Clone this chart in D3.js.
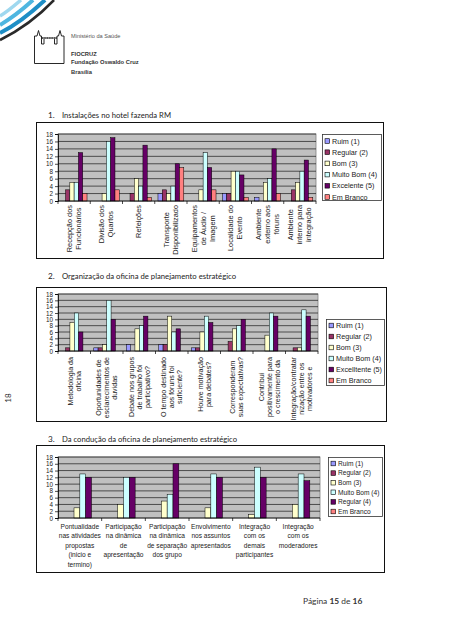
<!DOCTYPE html>
<html><head><meta charset="utf-8">
<script src="https://cdn.jsdelivr.net/npm/d3@7"></script>
<style>body{margin:0;background:#fff}svg{display:block}</style>
</head><body>
<script>
// ---------- DATA ----------
const seriesNames = ["Ruim (1)","Regular (2)","Bom (3)","Muito Bom (4)","Excelente (5)","Em Branco"];
const seriesNames2 = ["Ruim (1)","Regular (2)","Bom (3)","Muito Bom (4)","Excelltente (5)","Em Branco"];
const seriesNames3 = ["Ruim (1)","Regular (2)","Bom (3)","Muito Bom (4)","Regular (4)","Em Branco"];
const seriesColors = ["#9999FF","#993366","#FFFFCC","#CCFFFF","#660066","#FF8080"];
const yTicks = [0,2,4,6,8,10,12,14,16,18];

const titles = ["Instalações no hotel fazenda RM",
                "Organização da oficina de planejamento estratégico",
                "Da condução da oficina de planejamento estratégico"];

const cats1 = [["Recepção dos","Funcionários"],["Divisão dos","Quartos"],["Refeições"],
  ["Transporte","Disponibilizado"],["Equipamentos","de Áudio /","Imagem"],["Localidade do","Evento"],
  ["Ambiente","externo aos","fóruns"],["Ambiente","interno para","integração"]];
// rows = series (Ruim, Regular, Bom, Muito Bom, Excelente, Em Branco), cols = categories
const values1 = [
  [0,0,0,2,0,2,1,0],
  [3,0,2,3,0,2,0,3],
  [5,2,6,2,3,8,5,5],
  [5,16,4,4,13,8,6,8],
  [13,17,15,10,9,7,14,11],
  [2,3,1,9,3,1,2,1]];

const cats2 = [["Metodologia da","oficina"],["Oportunidades de","esclarecimentos de","duvidas"],
  ["Debate nos grupos","de trabalho foi","participativo?"],["O tempo destinado","aos fóruns foi","suficiente?"],
  ["Houve motivação","para debates?"],["Corresponderam","suas expectativas?"],
  ["Contribui","positivamente para","o crescimento da"],["Integração/contratar","nização entre os","motivadores e"]];
const values2 = [
  [0,1,2,2,1,0,0,0],
  [1,1,0,2,1,3,0,1],
  [9,2,7,11,6,7,5,1],
  [12,16,8,6,11,8,12,13],
  [6,10,11,7,9,10,11,11],
  [0,0,0,0,0,0,0,0]];

const cats3 = [["Pontualidade","nas atividades","propostas","(inicio e","termino)"],
  ["Participação","na dinâmica","de","apresentação"],["Participação","na dinâmica","de separação","dos grupo"],
  ["Envolvimento","nos assuntos","apresentados"],["Integração","com os","demais","participantes"],
  ["Integração","com os","moderadores"]];
const values3 = [
  [0,0,0,0,0,0],
  [0,0,0,0,0,0],
  [3,4,5,3,1,4],
  [13,12,7,13,15,13],
  [12,12,16,12,12,11],
  [0,0,0,0,0,0]];

// ---------- DRAW ----------
const W = 453, H = 640;
const svg = d3.select("body").append("svg").attr("width", W).attr("height", H);
const AF = "Arial, 'Liberation Sans', sans-serif";
const CF = "Lato, 'Open Sans', sans-serif";

// header swirl
const sw = svg.append("g").attr("fill","none");
sw.append("path").attr("d","M0,40 C16,32 36,19 54,0").attr("stroke","#2a2a2a").attr("stroke-width",2.6);
sw.append("path").attr("d","M0,33 C14,26 30,14 45,0").attr("stroke","#1e8ec6").attr("stroke-width",4);
sw.append("path").attr("d","M0,25 C10,19 22,10 33,0").attr("stroke","#4fb6e0").attr("stroke-width",4);
sw.append("path").attr("d","M0,16 C7,12 14,6 21,0").attr("stroke","#9fd8ef").attr("stroke-width",3.5);
// castle logo
const cl = svg.append("g").attr("fill","none").attr("stroke","#111").attr("stroke-width",0.9);
cl.append("path").attr("d","M34.5,63.5 H64 M34.5,63.5 V36 H37 L38.5,30.5 L40,36 H41.5 V44 M64,63.5 V36 H61.5 L60,30.5 L58.5,36 H57 V44 M41.5,38 H57 M41.5,44 H44 V39 M57,44 H54.5 V39");
cl.append("path").attr("d","M42,38 H57").attr("stroke-dasharray","1.2,1.2");
svg.append("text").attr("x",71).attr("y",37.5).text("Ministério da Saúde")
  .attr("font-family",AF).attr("font-size",5.6).attr("fill","#555");
[["FIOCRUZ",56],["Fundação Oswaldo Cruz",64],["Brasília",74]].forEach(([t,y])=>{
  svg.append("text").attr("x",71).attr("y",y).text(t).attr("font-family",AF)
    .attr("font-weight","bold").attr("font-size",5.8).attr("fill","#333");
});

// titles
[[118,titles[0],109],[279,titles[1],174],[442,titles[2],175]].forEach(([y,t,len],i)=>{
  svg.append("text").attr("x",48).attr("y",y).text((i+1)+".").attr("font-family",CF).attr("font-size",8.2).attr("fill","#222");
  svg.append("text").attr("x",62).attr("y",y).text(t).attr("font-family",CF).attr("font-size",8.2)
    .attr("fill","#222").attr("textLength",len).attr("lengthAdjust","spacingAndGlyphs");
});

// side page marker
svg.append("text").attr("transform","translate(11,398) rotate(-90)").attr("text-anchor","middle")
  .text("18").attr("font-family",CF).attr("font-size",8).attr("fill","#333");

// page number
const pn = svg.append("text").attr("x",303).attr("y",604).attr("font-family",CF).attr("font-size",8.4).attr("fill","#333");
pn.append("tspan").text("Página ");
pn.append("tspan").text("15").attr("font-weight","bold");
pn.append("tspan").text(" de ");
pn.append("tspan").text("16").attr("font-weight","bold");

function drawChart(cfg){
  const g = svg.append("g");
  const [bx0,by0,bx1,by1] = cfg.box;
  g.append("rect").attr("x",bx0+0.5).attr("y",by0+0.5).attr("width",bx1-bx0).attr("height",by1-by0)
    .attr("fill","#fff").attr("stroke","#111").attr("stroke-width",1);
  const [px0,px1,pyTop,pyBot] = cfg.plot;
  const n = cfg.cats.length;
  const x0 = d3.scaleBand().domain(d3.range(n)).range([px0,px1]).paddingInner(0).paddingOuter(0);
  const x1 = d3.scaleBand().domain(d3.range(6)).range([0,x0.bandwidth()]).paddingInner(0).paddingOuter(0.75);
  const y = d3.scaleLinear().domain([0,18]).range([pyBot,pyTop]);
  g.append("rect").attr("x",px0).attr("y",pyTop).attr("width",px1-px0).attr("height",pyBot-pyTop)
    .attr("fill","#C0C0C0").attr("stroke","#808080").attr("stroke-width",0.8);
  g.selectAll(".grid").data(yTicks.filter(d=>d>0)).join("line")
    .attr("x1",px0).attr("x2",px1).attr("y1",d=>y(d)).attr("y2",d=>y(d))
    .attr("stroke","#1a1a1a").attr("stroke-width",0.7);
  // bars
  cfg.values.forEach((row,s)=>{
    g.selectAll(null).data(row.map((v,i)=>({v,i})).filter(d=>d.v>0)).join("rect")
      .attr("x",d=>x0(d.i)+x1(s)).attr("width",x1.bandwidth())
      .attr("y",d=>y(d.v)).attr("height",d=>y(0)-y(d.v))
      .attr("fill",seriesColors[s]).attr("stroke","#000").attr("stroke-width",0.5);
  });
  // y axis
  const ya = g.append("g").attr("transform",`translate(${px0},0)`)
    .call(d3.axisLeft(y).tickValues(yTicks).tickSize(3).tickPadding(2));
  ya.select(".domain").attr("stroke","#000").attr("stroke-width",0.8);
  ya.selectAll(".tick line").attr("stroke","#000").attr("stroke-width",0.7);
  ya.selectAll("text").attr("font-family",AF).attr("font-size",6.3).attr("fill","#222");
  // x axis line + ticks between categories
  g.append("line").attr("x1",px0).attr("x2",px1).attr("y1",y(0)).attr("y2",y(0)).attr("stroke","#000").attr("stroke-width",0.8);
  g.selectAll(".xt").data(d3.range(n+1)).join("line")
    .attr("x1",i=>i<n?x0(i):px1).attr("x2",i=>i<n?x0(i):px1)
    .attr("y1",y(0)).attr("y2",y(0)+3).attr("stroke","#000").attr("stroke-width",0.7);
  // category labels
  cfg.cats.forEach((lines,i)=>{
    const cx = x0(i)+x0.bandwidth()/2;
    if(cfg.rotate){
      const lg = g.append("g").attr("transform",`translate(${cx},${cfg.labelTop}) rotate(-90)`);
      const ts = lines.map((t,j)=>lg.append("text").text(t).attr("font-family",AF).attr("font-size",cfg.labelFont)
        .attr("fill","#222").attr("text-anchor","middle").attr("dy","0.35em")
        .attr("y",(j-(lines.length-1)/2)*cfg.lineStep));
      const L = d3.max(ts,t=>t.node().getComputedTextLength());
      ts.forEach(t=>t.attr("x",-L/2));
    } else {
      lines.forEach((t,j)=>g.append("text").text(t).attr("x",cx).attr("y",cfg.labelTop+j*cfg.lineStep)
        .attr("font-family",AF).attr("font-size",cfg.labelFont).attr("fill","#222").attr("text-anchor","middle"));
    }
  });
  // legend
  const [lx0,ly0,lx1,ly1,first,step,fs] = cfg.legend;
  g.append("rect").attr("x",lx0+0.5).attr("y",ly0+0.5).attr("width",lx1-lx0).attr("height",ly1-ly0)
    .attr("fill","#fff").attr("stroke","#333").attr("stroke-width",0.8);
  cfg.names.forEach((nm,s)=>{
    const cy = first+s*step;
    g.append("rect").attr("x",lx0+3).attr("y",cy-2.3).attr("width",4.6).attr("height",4.6)
      .attr("fill",seriesColors[s]).attr("stroke","#000").attr("stroke-width",0.6);
    g.append("text").attr("x",lx0+10).attr("y",cy).attr("dy","0.35em").text(nm)
      .attr("font-family",AF).attr("font-size",fs).attr("fill","#222");
  });
}

drawChart({box:[36,122,383,258], plot:[58,316,134,201], cats:cats1, values:values1, names:seriesNames,
  rotate:true, labelTop:205, labelFont:7.4, lineStep:9, legend:[322,134,381,200,141,11.2,7.2]});
drawChart({box:[36,287,386,421], plot:[58,318,294,351], cats:cats2, values:values2, names:seriesNames2,
  rotate:true, labelTop:357, labelFont:7.1, lineStep:8.2, legend:[326,319,384,385,325.5,11,7.2]});
drawChart({box:[36,445,384,572], plot:[58,320,457,518], cats:cats3, values:values3, names:seriesNames3,
  rotate:false, labelTop:529, labelFont:6.6, lineStep:9.4, legend:[328,457,382,516,463.5,9.6,6.6]});
</script>
</body></html>
